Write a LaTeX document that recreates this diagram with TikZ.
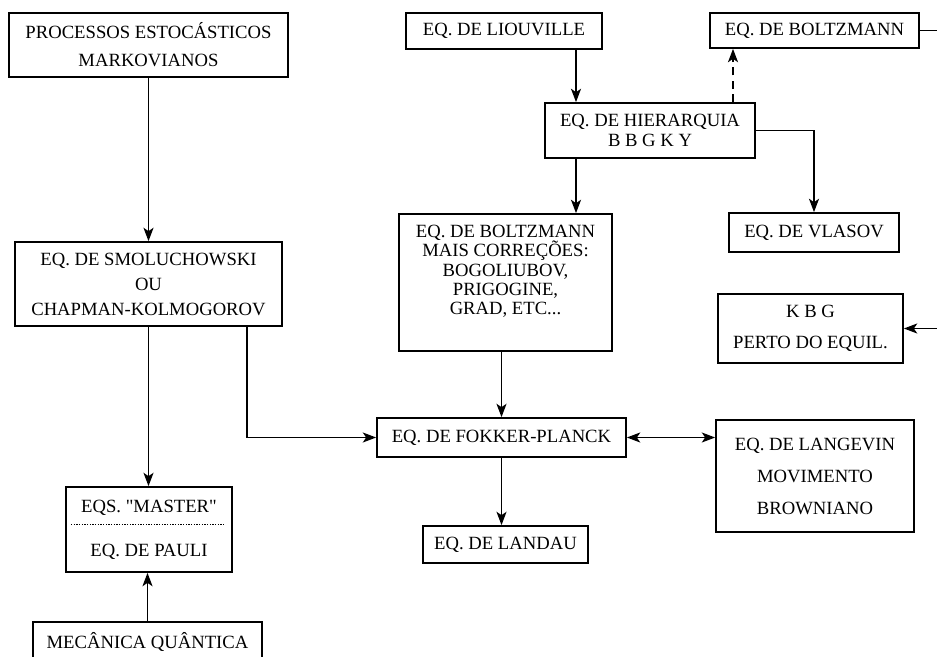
\documentclass[tikz,border=0pt]{standalone}
\usepackage{fontspec}
\setmainfont{Liberation Serif}[Ligatures=TeXOff]
\usetikzlibrary{arrows.meta}
\begin{document}
\begin{tikzpicture}[x=0.75pt, y=-0.75pt, line width=1.1pt,
  >={Stealth[length=10pt, width=7.5pt, inset=2.5pt]},
  box/.style={draw, line width=1.3pt, align=center, inner sep=0pt, font=\fontsize{14}{#1}\selectfont},
  box/.default=17,
  sz/.style 2 args={minimum width=#1*0.75pt, minimum height=#2*0.75pt}]
  \useasboundingbox (0,0) rectangle (937,656);
  \clip (0,0) rectangle (937,656);
  \node[box=21, sz={279}{64}] (proc) at (148.5,45) {PROCESSOS ESTOCÁSTICOS\\MARKOVIANOS};
  \node[box, sz={196}{36}] (liou) at (504,31) {EQ. DE LIOUVILLE};
  \node[box, sz={209}{35}] (boltz) at (814.5,30.5) {EQ. DE BOLTZMANN};
  \node[box=15, sz={210}{55}] (hier) at (650,130.5) {EQ. DE HIERARQUIA\\B B G K Y};
  \node[box=14.5, sz={213}{137}, text depth=19pt] (bmais) at (505.5,282.5) {EQ. DE BOLTZMANN\\MAIS CORREÇÕES:\\BOGOLIUBOV,\\PRIGOGINE,\\GRAD, ETC...};
  \node[box, sz={170}{39}] (vlasov) at (814,232.5) {EQ. DE VLASOV};
  \node[box=18.75, sz={267}{84}] (smol) at (148.5,284) {EQ. DE SMOLUCHOWSKI\\OU\\CHAPMAN-KOLMOGOROV};
  \node[box=23, sz={185}{69}] (kbg) at (810.5,328.5) {K B G\\PERTO DO EQUIL.};
  \node[box, sz={249}{39}] (fokker) at (501.5,437.5) {EQ. DE FOKKER-PLANCK};
  \node[box=24, sz={198}{112}] (langevin) at (815,476) {EQ. DE LANGEVIN\\MOVIMENTO\\BROWNIANO};
  \node[box, sz={165}{37}] (landau) at (505.5,544.5) {EQ. DE LANDAU};
  \node[box=33, sz={166}{85}] (master) at (149,529.5) {EQS. "MASTER"\\EQ. DE PAULI};
  \node[box, sz={229}{40}] (mq) at (147.5,642) {MECÂNICA QUÂNTICA};
  \coordinate (rtop) at (937,30.5);
  \coordinate (rkbg) at (937,328.5);
  \coordinate (xl) at (576,0);
  \coordinate (xd) at (733,0);
  \coordinate (xs) at (247,0);
  \draw[->] (proc) -- (smol);
  \draw[->] (liou.south -| xl) -- (hier.north -| xl);
  \draw[->] (hier.south -| xl) -- (bmais.north -| xl);
  \draw[->, dash pattern=on 6pt off 4pt] (hier.north -| xd) -- (boltz.south -| xd);
  \draw[->] (hier.east) -| (vlasov.north);
  \draw (boltz.east) -- (rtop);
  \draw[->] (rkbg) -- (kbg.east);
  \draw[->] (bmais.south -| fokker.north) -- (fokker.north);
  \draw[->] (fokker.south) -- (fokker.south |- landau.north);
  \draw[->] (smol.south) -- (smol.south |- master.north);
  \draw[->] (smol.south -| xs) |- (fokker.west);
  \draw[<->] (fokker.east) -- (fokker.east -| langevin.west);
  \draw[->] (mq.north) -- (mq.north |- master.south);
  \draw[line width=0.7pt, dash pattern=on 1pt off 1pt] ([shift={(6,-5.5)}]master.west) -- ([shift={(-9,-5.5)}]master.east);
\end{tikzpicture}
\end{document}
